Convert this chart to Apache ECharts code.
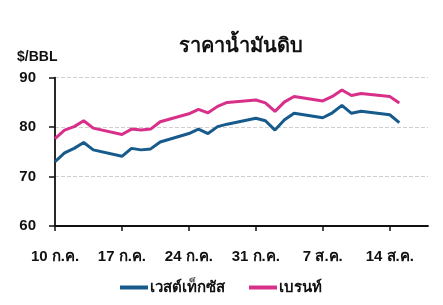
<!DOCTYPE html>
<html>
<head>
<meta charset="utf-8">
<script src="https://cdn.jsdelivr.net/npm/echarts@6/dist/echarts.min.js"></script>
<style>
html,body{margin:0;padding:0;background:#fff;}
#chart{width:443px;height:305px;}
</style>
</head>
<body>
<div id="chart"></div>
<script>
// Trading dates (2023)
const dates = ['2023-07-10','2023-07-11','2023-07-12','2023-07-13','2023-07-14',
  '2023-07-17','2023-07-18','2023-07-19','2023-07-20','2023-07-21',
  '2023-07-24','2023-07-25','2023-07-26','2023-07-27','2023-07-28',
  '2023-07-31','2023-08-01','2023-08-02','2023-08-03','2023-08-04',
  '2023-08-07','2023-08-08','2023-08-09','2023-08-10','2023-08-11',
  '2023-08-14','2023-08-15'];
const wti = [73.0,74.8,75.7,76.9,75.4,
  74.1,75.7,75.4,75.6,77.0,
  78.7,79.6,78.7,80.1,80.6,
  81.8,81.3,79.4,81.5,82.8,
  81.9,82.9,84.4,82.8,83.2,
  82.5,80.9];
const brent = [77.7,79.4,80.1,81.3,79.8,
  78.5,79.6,79.4,79.6,81.1,
  82.7,83.6,82.9,84.2,85.0,
  85.5,84.9,83.2,85.1,86.2,
  85.3,86.2,87.5,86.4,86.8,
  86.2,84.9];
const tickDays = [0,7,14,21,28,35];
const tickLabels = ['10 ก.ค.','17 ก.ค.','24 ก.ค.','31 ก.ค.','7 ส.ค.','14 ส.ค.'];
const yTicks = [60,70,80,90];

const startMs = Date.UTC(2023,6,10);
const dayOf = d => Math.round((Date.parse(d+'T00:00:00Z') - startMs)/86400000);
const wtiData = dates.map((d,i)=>[dayOf(d), wti[i]]);
const brentData = dates.map((d,i)=>[dayOf(d), brent[i]]);

const FONT = "'Liberation Sans', 'Noto Sans', Arial, sans-serif";
const chart = echarts.init(document.getElementById('chart'), null, {renderer:'canvas'});
chart.setOption({
  animation:false,
  backgroundColor:'#ffffff',
  textStyle:{fontFamily:FONT},
  title:[
    {text:'ราคาน้ำมันดิบ', left:236, top:31, textAlign:'center',
     textStyle:{fontFamily:FONT, fontSize:20, fontWeight:'bold', color:'#111'}},
    {text:'$/BBL', left:12, top:45,
     textStyle:{fontFamily:FONT, fontSize:14, fontWeight:'bold', color:'#111'}}
  ],
  legend:{
    left:115, top:275, itemGap:24, itemWidth:28, itemHeight:4,
    icon:'rect',
    textStyle:{fontFamily:FONT, fontSize:15, fontWeight:'bold', color:'#111', padding:[0,0,0,-3]},
    data:['เวสต์เท็กซัส','เบรนท์']
  },
  grid:{left:55, right:15, top:77.7, bottom:79, containLabel:false},
  xAxis:{
    type:'value', min:0, max:39, interval:7,
    axisLine:{show:true, lineStyle:{color:'#111', width:1.8}},
    axisTick:{show:true, length:5, inside:false, customValues:tickDays, lineStyle:{color:'#111', width:1.5}},
    axisLabel:{customValues:tickDays, margin:23, fontFamily:FONT, fontSize:15, fontWeight:'bold', color:'#111',
      formatter:v=>{const i=tickDays.indexOf(v);return i>=0?tickLabels[i]:'';}},
    splitLine:{show:false}
  },
  yAxis:{
    type:'value', min:yTicks[0], max:yTicks[yTicks.length-1], interval:10,
    axisLine:{show:true, lineStyle:{color:'#111', width:1.8}},
    axisTick:{show:true, length:6, lineStyle:{color:'#111', width:1.5}},
    axisLabel:{margin:19, fontFamily:FONT, fontSize:15, fontWeight:'bold', color:'#111'},
    splitLine:{show:true, lineStyle:{color:'#cfcfcf', type:'dashed', width:1}}
  },
  series:[
    {name:'เวสต์เท็กซัส', type:'line', data:wtiData, showSymbol:false, symbol:'none',
     lineStyle:{color:'#175a8c', width:3}, itemStyle:{color:'#175a8c'}},
    {name:'เบรนท์', type:'line', data:brentData, showSymbol:false, symbol:'none',
     lineStyle:{color:'#d8308a', width:3}, itemStyle:{color:'#d8308a'}}
  ]
});
</script>
</body>
</html>
